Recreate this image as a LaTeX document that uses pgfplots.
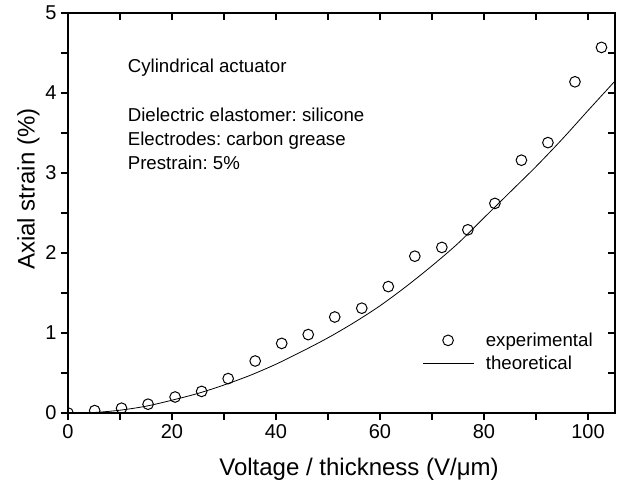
\documentclass[border=0pt]{standalone}
\usepackage{fontspec}
\setmainfont{Liberation Sans}
\usepackage{pgfplots}
\pgfplotsset{compat=1.18}
\frenchspacing
\pgfplotstableread{
x y
0 0
5.13 0.03
10.3 0.06
15.4 0.11
20.6 0.20
25.7 0.27
30.8 0.43
36.0 0.65
41.1 0.87
46.2 0.98
51.3 1.20
56.5 1.31
61.6 1.58
66.7 1.96
71.9 2.07
76.9 2.29
82.1 2.62
87.2 3.16
92.3 3.38
97.5 4.14
102.6 4.57
}\expdata
\pgfplotstableread{
x y
0 0
5 0.006
10 0.035
15 0.085
20 0.16
25 0.245
30 0.35
35 0.47
40 0.61
45 0.77
50 0.94
55 1.13
60 1.34
65 1.58
70 1.84
75 2.12
80 2.44
85 2.76
90 3.08
95 3.42
100 3.78
105.2 4.15
}\theodata
\begin{document}
\begin{tikzpicture}
\useasboundingbox (-51pt,-54pt) rectangle (414.75pt,309.75pt);
\pgfplotsset{common/.style={
  scale only axis, width=410.25pt, height=300pt,
  xmin=0, xmax=105.2, ymin=0, ymax=5,
  xtick={0,20,...,100}, minor xtick={10,30,...,90},
  ytick={0,1,...,5}, minor ytick={0.5,1.5,...,4.5},
  axis line style={line width=1pt},
  major tick length=5pt, minor tick length=5pt,
  every tick/.style={line width=0.9pt, black},
}}
\begin{axis}[common,
  xtick pos=right, ytick pos=right, tick align=inside,
  xticklabels={}, yticklabels={}]
\end{axis}
\begin{axis}[common,
  xtick pos=left, ytick pos=left, tick align=outside,
  /pgf/number format/assume math mode=true,
  ticklabel style={font=\fontsize{15}{17}\selectfont},
  xlabel={Voltage / thickness (V/μm)},
  ylabel={Axial strain (\%)},
  every axis x label/.style={at={(axis description cs:0.532,0)}, anchor=base, yshift=-47pt, font=\fontsize{18}{20}\selectfont},
  every axis y label/.style={at={(axis description cs:0,0.56)}, rotate=90, anchor=base, yshift=25pt, font=\fontsize{18}{20}\selectfont},
  clip marker paths=true,
  legend image code/.code={\draw[mark repeat=2,mark phase=2,#1] plot coordinates {(0pt,0pt) (19pt,0pt) (38pt,0pt)};},
  legend style={draw=none, fill=none, at={(0.64,0.215)}, anchor=north west,
    font=\fontsize{14}{16}\selectfont, row sep=2pt,
    /tikz/every odd column/.append style={column sep=7pt}},
  legend cell align=left,
]
\addplot[only marks, mark=o, mark size=4pt, mark options={line width=0.75pt, black}] table {\expdata};
\addlegendentry{experimental}
\addplot[black, line width=0.6pt, smooth] table {\theodata};
\addlegendentry{theoretical}
\node[anchor=base west, font=\fontsize{14}{16}\selectfont] at (axis cs:10.6,4.25) {Cylindrical actuator};
\node[anchor=base west, font=\fontsize{14}{16}\selectfont] at (axis cs:10.6,3.65) {Dielectric elastomer: silicone};
\node[anchor=base west, font=\fontsize{14}{16}\selectfont] at (axis cs:10.6,3.34) {Electrodes: carbon grease};
\node[anchor=base west, font=\fontsize{14}{16}\selectfont] at (axis cs:10.6,3.04) {Prestrain: 5\%};
\end{axis}
\end{tikzpicture}
\end{document}
